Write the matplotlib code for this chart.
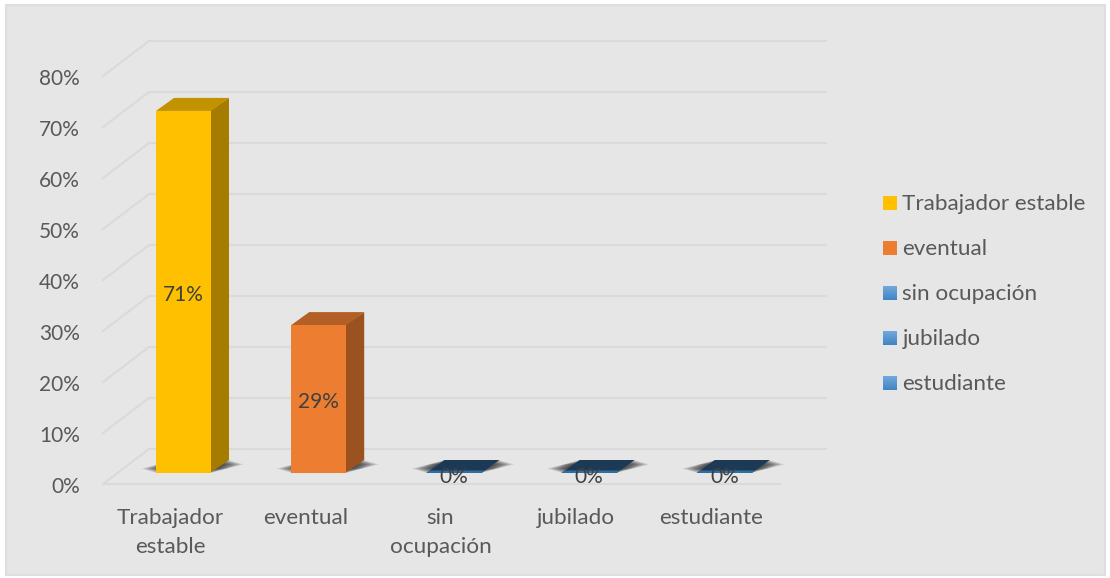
#!/usr/bin/env python3
"""3D-look column chart of occupation shares, drawn on a flat pixel-sized axes."""
import numpy as np
import matplotlib
matplotlib.use("Agg")
import matplotlib.pyplot as plt
from matplotlib.patches import Polygon, Rectangle

plt.rcParams["font.family"] = ["Lato", "DejaVu Sans"]

W, H = 1110, 578

categories = ["Trabajador\nestable", "eventual", "sin\nocupación", "jubilado", "estudiante"]
legend_labels = ["Trabajador estable", "eventual", "sin ocupación", "jubilado", "estudiante"]
values = [71, 29, 0, 0, 0]
y_ticks = [0, 10, 20, 30, 40, 50, 60, 70, 80]

FRONT = ["#ffc000", "#ed7d31", "#5b9bd5", "#5b9bd5", "#5b9bd5"]
TOP = ["#c29200", "#b35f25", "#1c3a56", "#1c3a56", "#1c3a56"]
SIDE = ["#a67c00", "#9b5220", "#1c3a56", "#1c3a56", "#1c3a56"]
BG = "#e6e6e6"
GRID = "#dadada"
TEXT = "#595959"

# layout, in pixels
PX_PER_PCT = 5.1
BAR_X0, BAR_STEP, BAR_W = 183.5, 135.2, 55
BASE_Y = 473          # front of the bars
DEPTH = (18, -13)     # bar depth
FLOOR_FRONT = 484     # 0% at front of floor
FLOOR_BACK = 449      # 0% at back wall
WALL_L, WALL_R = 103, 780
BACK_SHIFT = 46


def py(v, base=BASE_Y):
    return base - v * PX_PER_PCT


fig = plt.figure(figsize=(W / 100, H / 100), dpi=100, facecolor="white")
ax = fig.add_axes([0, 0, 1, 1])
ax.set_xlim(0, W)
ax.set_ylim(H, 0)
ax.axis("off")

# chart area
ax.add_patch(Rectangle((5.5, 4.5), 1099, 570, fc=BG, ec="#dedede", lw=1.5, zorder=0))

# gridlines: diagonal on the side wall, then along the back wall
for v in y_ticks:
    yf, yb = py(v, FLOOR_FRONT), py(v, FLOOR_BACK)
    ax.plot([WALL_L, WALL_L + BACK_SHIFT, WALL_R + BACK_SHIFT], [yf, yb, yb],
            color=GRID, lw=1.5, zorder=1, solid_joinstyle="round")
    ax.text(80, yf + 3, f"{v}%", ha="right", va="center", fontsize=15, color=TEXT)
ax.plot([WALL_L, WALL_R], [FLOOR_FRONT, FLOOR_FRONT], color=GRID, lw=1.5, zorder=1)

dx, dy = DEPTH
for i, (v, label) in enumerate(zip(values, categories)):
    cx = BAR_X0 + i * BAR_STEP
    x0, x1 = cx - BAR_W / 2, cx + BAR_W / 2
    top = py(v)

    # soft floor shadow, built from stacked translucent layers
    for g in [15, 13, 11, 9, 7, 5, 3, 1]:
        shrink = g * 0.28
        ax.add_patch(Polygon([(x0 - g, BASE_Y - shrink), (x1 + g, BASE_Y - shrink),
                              (x1 + dx + g, BASE_Y + dy + shrink), (x0 + dx - g, BASE_Y + dy + shrink)],
                             closed=True, fc="#262626", ec="none", alpha=0.17, zorder=2))

    if v > 0:
        ax.add_patch(Polygon([(x1 - 1, top), (x1 + dx, top + dy), (x1 + dx, BASE_Y + dy), (x1 - 1, BASE_Y)],
                             closed=True, fc=SIDE[i], ec="none", zorder=3))
        ax.add_patch(Polygon([(x0, top), (x1, top), (x1 + dx, top + dy), (x0 + dx, top + dy)],
                             closed=True, fc=TOP[i], ec="none", zorder=3))
        ax.add_patch(Rectangle((x0, top), BAR_W, BASE_Y - top, fc=FRONT[i], ec="none", zorder=4))
        ax.text(cx, (top + BASE_Y) / 2 + 3, f"{v}%", ha="center", va="center", fontsize=15,
                color="#404040", zorder=6)
    else:
        # zero-height column: only its top face is visible, with a blue front edge
        ax.add_patch(Polygon([(x0, BASE_Y), (x1, BASE_Y), (x1 + dx, BASE_Y + dy), (x0 + dx, BASE_Y + dy)],
                             closed=True, fc=TOP[i], ec="none", zorder=3))
        ax.add_patch(Polygon([(x0, BASE_Y), (x1, BASE_Y), (x1 + 3, BASE_Y - 2.5), (x0 + 3, BASE_Y - 2.5)],
                             closed=True, fc="#2f6ea3", ec="none", zorder=3))
        ax.text(cx, BASE_Y + 4, f"{v}%", ha="center", va="center", fontsize=15,
                color="#404040", zorder=6)

    ax.text(cx - 13.5, 508, label, ha="center", va="top", fontsize=16.2, color=TEXT,
            linespacing=1.55, zorder=6)

# legend
grad = np.linspace(0, 1, 16).reshape(-1, 1)
blue = matplotlib.colors.LinearSegmentedColormap.from_list("b", ["#71a7dc", "#4285c4"])
for i, label in enumerate(legend_labels):
    y = 203 + i * 45.1
    if FRONT[i] == "#5b9bd5":
        ax.imshow(grad, cmap=blue, extent=(883, 897, y + 7, y - 7), aspect="auto", zorder=5)
    else:
        ax.add_patch(Rectangle((883, y - 7), 14, 14, fc=FRONT[i], ec="none", zorder=5))
    ax.text(902.5, y + 1, label, ha="left", va="center", fontsize=16.2, color=TEXT, zorder=6)

ax.set_xlim(0, W)
ax.set_ylim(H, 0)
fig.savefig("out.png", dpi=100, facecolor="white")
